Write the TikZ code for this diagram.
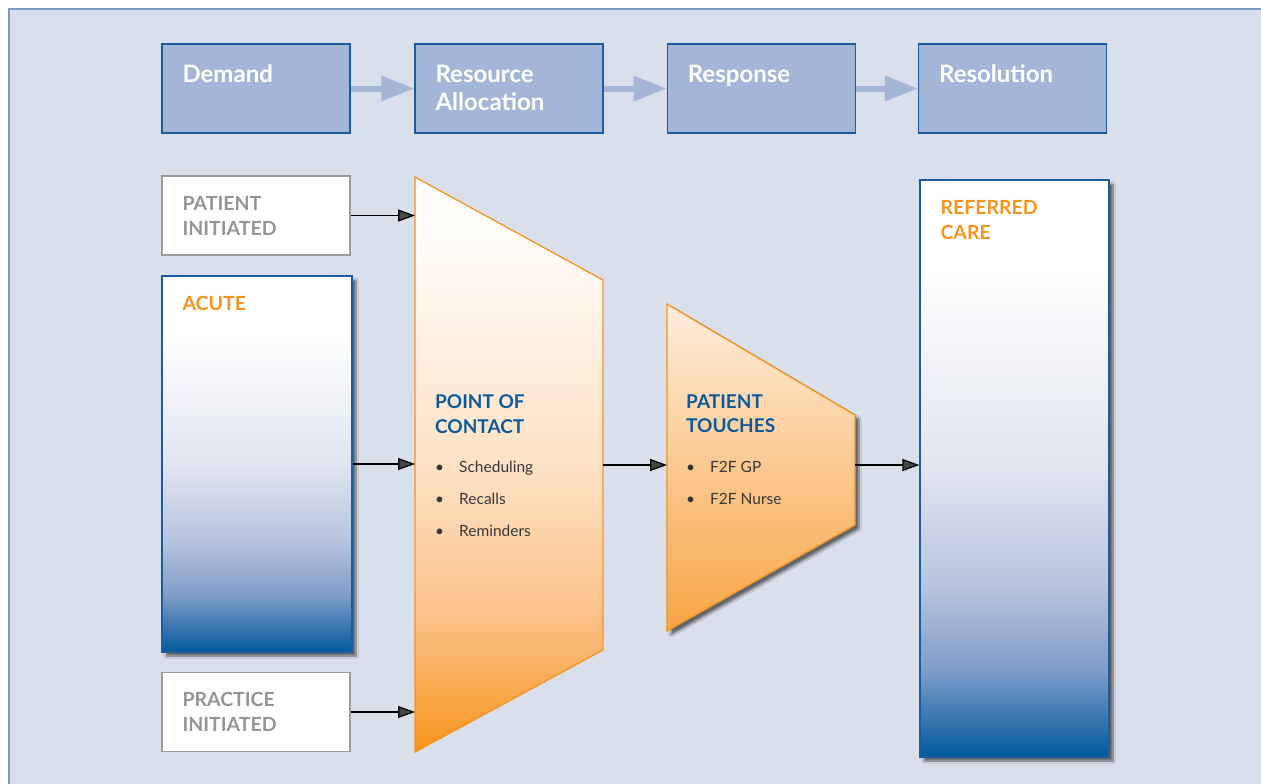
\documentclass[tikz,border=0pt]{standalone}
\usepackage{fontspec}
\setmainfont{Lato}
\usetikzlibrary{positioning,arrows.meta,shadows.blur}

\definecolor{panel}{HTML}{DADFEC}
\definecolor{panelline}{HTML}{7E9BC8}
\definecolor{stagefill}{HTML}{A3B6D7}
\definecolor{navy}{HTML}{1B5C9E}
\definecolor{deepblue}{HTML}{00599C}
\definecolor{midblue}{HTML}{7F9CC8}
\definecolor{softblue}{HTML}{B8C5DF}
\definecolor{paleblue}{HTML}{E1E5F0}
\definecolor{ochre}{HTML}{F7941D}
\definecolor{apricot}{HTML}{FBC48E}
\definecolor{peach}{HTML}{FDE2C5}
\definecolor{cream}{HTML}{FFFCF9}
\definecolor{greytext}{HTML}{939598}
\definecolor{greyline}{HTML}{9A9B9D}
\definecolor{titleblue}{HTML}{0D5A9B}

\pgfdeclareverticalshading{bluefade}{100bp}{color(0bp)=(deepblue); color(25bp)=(deepblue); color(32.5bp)=(midblue); color(40bp)=(softblue); color(50bp)=(paleblue); color(67.5bp)=(white); color(100bp)=(white)}
\pgfdeclareverticalshading{orangefade}{100bp}{color(0bp)=(ochre); color(25bp)=(ochre); color(37.5bp)=(apricot); color(50bp)=(peach); color(70bp)=(cream); color(100bp)=(cream)}

\tikzset{
  stagebox/.style={draw=navy, line width=1.3pt, fill=stagefill, minimum width=188pt, minimum height=89pt, inner sep=0},
  stagetext/.style={anchor=north west, inner sep=0, text=white, align=left, font=\fontsize{24}{28}\selectfont\bfseries},
  sourcebox/.style={draw=greyline, line width=1.3pt, fill=white, minimum width=188pt, minimum height=79pt, inner sep=0},
  sourcetext/.style={anchor=north west, inner sep=0, text=greytext, align=left, font=\fontsize{19.5}{25}\selectfont\bfseries},
  bluebar/.style={draw=navy, line width=1.3pt, shading=bluefade, inner sep=0,
    blur shadow={shadow xshift=4pt, shadow yshift=-4pt, shadow blur steps=6, shadow opacity=55}},
  bartext/.style={anchor=north west, inner sep=0, text=ochre, align=left, font=\fontsize{19.5}{25}\selectfont\bfseries},
  headtext/.style={anchor=north west, inner sep=0, text=titleblue, align=left, font=\fontsize{19}{24.5}\selectfont\bfseries},
  itemtext/.style={anchor=north west, inner sep=0, text=black!78, align=left, font=\fontsize{15.5}{32}\selectfont},
  flow/.style={line width=6pt, draw=stagefill, -{Triangle[length=33pt,width=24pt]}},
  link/.style={line width=1.3pt, -{Triangle[length=17pt,width=12pt]}}
}
\newcommand{\itm}[1]{\makebox[24pt][l]{\textbullet}#1}

\begin{document}
\begin{tikzpicture}[x=1pt,y=1pt]
  \useasboundingbox (0,0) rectangle (1261,-784);
  \draw[panelline, fill=panel, line width=1.2pt] (9,-9) rectangle (1280,-800);

  % stages
  \node[stagebox] (dem) at (256,-88.5) {};
  \node[stagebox, right=63.7pt of dem] (res) {};
  \node[stagebox, right=63pt of res] (resp) {};
  \node[stagebox, right=62pt of resp] (resol) {};
  \node[stagetext] at ([xshift=21pt,yshift=-21.5pt]dem.north west) {Demand};
  \node[stagetext] at ([xshift=21pt,yshift=-21.5pt]res.north west) {Resource\\Allocation};
  \node[stagetext] at ([xshift=21pt,yshift=-22pt]resp.north west) {Response};
  \node[stagetext] at ([xshift=21pt,yshift=-21.5pt]resol.north west) {Resolution};
  \draw[flow] (dem) -- (res);
  \draw[flow] (res) -- (resp);
  \draw[flow] (resp) -- (resol);

  % demand sources
  \node[sourcebox] (pat) at (256,-215.5) {};
  \node[sourcetext] at ([xshift=21pt,yshift=-20.5pt]pat.north west) {PATIENT\\INITIATED};
  \node[sourcebox] (prac) at (256,-712) {};
  \node[sourcetext] at ([xshift=21pt,yshift=-20.5pt]prac.north west) {PRACTICE\\INITIATED};
  \node[bluebar, minimum width=190pt, minimum height=376pt] (acute) at (257,-464) {};
  \node[bartext] at ([xshift=21pt,yshift=-20.5pt]acute.north west) {ACUTE};

  % point of contact
  \path[draw=ochre, line width=1.3pt, shading=orangefade]
    (415,-177) -- (603,-280) -- (603,-650) -- (415,-752) -- cycle;
  \coordinate (poc-w1) at (415,-215.5);
  \coordinate (poc-w) at (415,-464);
  \coordinate (poc-w2) at (415,-712);
  \coordinate (poc-e) at (603,-465);
  \node[headtext] (pocname) at (435,-394.5) {POINT OF\\CONTACT};
  \node[itemtext] (pocitems) at ([yshift=-27.5pt]pocname.south west)
    {\itm{Scheduling}\\\itm{Recalls}\\\itm{Reminders}};

  % patient touches
  \path[draw=ochre, line width=1.3pt, top color=peach!60!white, middle color=peach!70!apricot, bottom color=ochre!65!apricot,
    blur shadow={shadow xshift=4pt, shadow yshift=-4pt, shadow blur steps=6, shadow opacity=55}]
    (667,-304) -- (855,-415) -- (855,-525) -- (667,-631) -- cycle;
  \coordinate (pt-w) at (667,-465);
  \coordinate (pt-e) at (855,-465);
  \node[headtext] (ptname) at (686,-394.5) {PATIENT\\TOUCHES};
  \node[itemtext] (ptitems) at ([yshift=-27.5pt]ptname.south west)
    {\itm{F2F GP}\\\itm{F2F Nurse}};

  % resolution
  \node[bluebar, minimum width=189pt, minimum height=577pt] (ref) at (1014.5,-468.5) {};
  \node[bartext] at ([xshift=21pt,yshift=-21pt]ref.north west) {REFERRED\\CARE};

  \draw[link] (pat) -- (poc-w1);
  \draw[link] (acute) -- (poc-w);
  \draw[link] (prac) -- (poc-w2);
  \draw[link] (poc-e) -- (pt-w);
  \draw[link] (pt-e) -- (pt-e -| ref.west);
\end{tikzpicture}
\end{document}
